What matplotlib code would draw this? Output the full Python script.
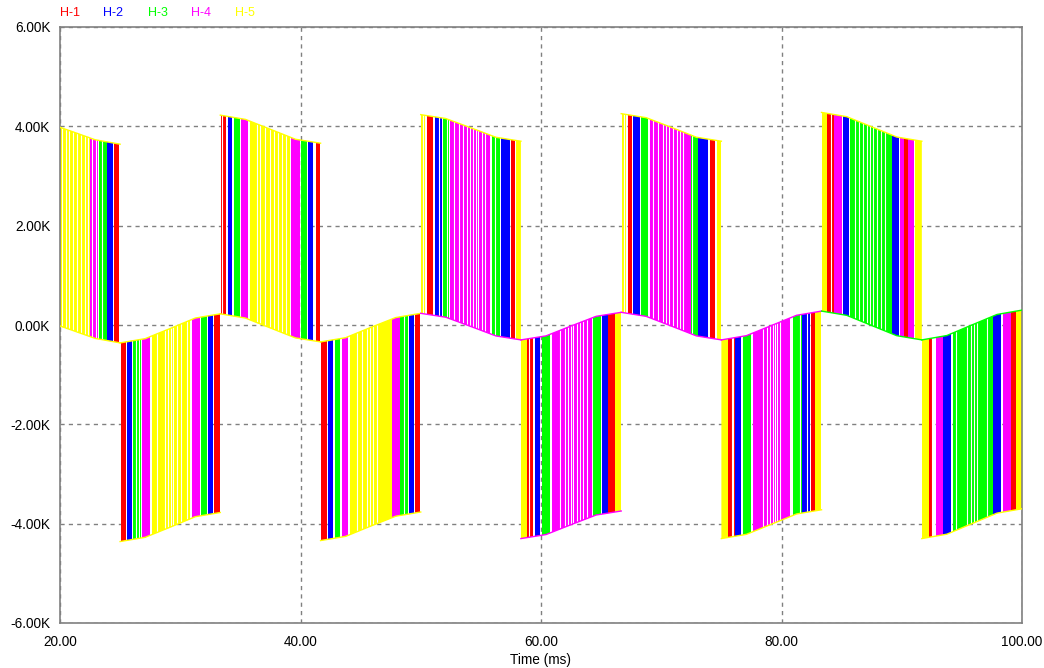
import numpy as np
import matplotlib
matplotlib.use('Agg')
import matplotlib.pyplot as plt
from matplotlib.patches import Polygon

plt.rcParams['font.family'] = ['Liberation Sans', 'DejaVu Sans']

series_names = ['H-1', 'H-2', 'H-3', 'H-4', 'H-5']
series_colors = {'H-1': '#FF0000', 'H-2': '#0000FF', 'H-3': '#00FF00',
                 'H-4': '#FF00FF', 'H-5': '#FFFF00'}

# baseline (low level) readings, kV, at times in ms
base_t = [20.0, 20.83, 22.92, 25.0, 27.08, 29.17, 31.25, 33.33, 35.42, 37.5,
          39.58, 41.67, 43.75, 45.83, 47.92, 50.0, 52.08, 54.17, 56.25, 58.33,
          60.42, 62.5, 64.58, 66.67, 68.75, 70.83, 72.92, 75.0, 77.08, 79.17,
          81.25, 83.33, 85.42, 87.5, 89.58, 91.67, 93.75, 95.83, 97.92, 100.0]
base_v = [-0.02, -0.09, -0.27, -0.36, -0.275, -0.07, 0.14, 0.225, 0.14, -0.06,
          -0.26, -0.34, -0.256, -0.05, 0.15, 0.235, 0.157, -0.03, -0.22, -0.30,
          -0.219, -0.02, 0.174, 0.255, 0.174, -0.02, -0.219, -0.30, -0.215, -0.01,
          0.195, 0.28, 0.195, -0.01, -0.215, -0.30, -0.212, 0.0, 0.212, 0.30]
pulse_height = 4.0

block_start = [20.0, 25.0, 33.33, 41.67, 50.0, 58.33, 66.67, 75.0, 83.33, 91.67]
block_end = [25.0, 33.33, 41.67, 50.0, 58.33, 66.67, 75.0, 83.33, 91.67, 100.0]
block_sign = [1, -1, 1, -1, 1, -1, 1, -1, 1, -1]
block_base_color = ['H-5', 'H-5', 'H-5', 'H-5', 'H-4', 'H-4', 'H-4', 'H-4', 'H-3', 'H-3']
block_outer_color = ['H-5', 'H-5', 'H-5', 'H-5', 'H-5', 'H-4', 'H-5', 'H-5', 'H-5', 'H-5']

bands_p1 = [('H-5', 20.0, 22.5), ('H-4', 22.5, 23.15), ('H-3', 23.25, 23.9),
            ('H-2', 23.95, 24.4), ('H-1', 24.5, 24.87)]
bands_n1 = [('H-1', 25.05, 25.5), ('H-2', 25.57, 26.0), ('H-3', 26.07, 26.75),
            ('H-4', 26.82, 27.5), ('H-5', 27.62, 30.82), ('H-4', 30.95, 31.65),
            ('H-3', 31.72, 32.25), ('H-2', 32.3, 32.75), ('H-1', 32.8, 33.3)]
bands_p2 = [('H-1', 33.35, 33.8), ('H-2', 33.97, 34.3), ('H-3', 34.47, 34.97),
            ('H-4', 35.05, 35.63), ('H-5', 35.8, 39.13), ('H-4', 39.21, 39.96),
            ('H-3', 40.04, 40.54), ('H-2', 40.62, 41.04), ('H-1', 41.29, 41.65)]
bands_n2 = [('H-1', 41.7, 42.2), ('H-2', 42.25, 42.7), ('H-3', 42.87, 43.28),
            ('H-4', 43.45, 43.95), ('H-5', 44.12, 47.6), ('H-4', 47.62, 48.27),
            ('H-3', 48.3, 48.94), ('H-2', 49.02, 49.44), ('H-1', 49.52, 49.94)]
bands_p3 = [('H-5', 50.0, 50.36), ('H-1', 50.5, 51.04), ('H-2', 51.18, 51.73),
            ('H-3', 51.87, 52.38), ('H-4', 52.43, 55.76), ('H-3', 55.9, 56.59),
            ('H-2', 56.66, 57.42), ('H-1', 57.5, 57.84), ('H-5', 57.9, 58.3)]
bands_n3 = [('H-5', 58.35, 58.8), ('H-1', 58.8, 59.36), ('H-2', 59.5, 59.9),
            ('H-3', 60.06, 60.75), ('H-4', 60.89, 64.22), ('H-3', 64.3, 64.96),
            ('H-2', 65.05, 65.6), ('H-1', 65.6, 66.15), ('H-5', 66.15, 66.65)]
bands_p4 = [('H-5', 66.7, 67.1), ('H-1', 67.2, 67.6), ('H-2', 67.65, 68.2),
            ('H-3', 68.3, 68.9), ('H-4', 69.05, 72.5), ('H-3', 72.5, 73.05),
            ('H-2', 73.05, 73.9), ('H-1', 74.05, 74.45), ('H-5', 74.6, 74.95)]
bands_n4 = [('H-5', 75.0, 75.55), ('H-1', 75.55, 76.1), ('H-2', 76.1, 76.66),
            ('H-3', 76.8, 77.5), ('H-4', 77.65, 80.7), ('H-3', 80.98, 81.67),
            ('H-2', 81.67, 82.36), ('H-1', 82.45, 82.78), ('H-5', 82.78, 83.3)]
bands_p5 = [('H-5', 83.35, 83.8), ('H-1', 83.8, 84.35), ('H-4', 84.35, 85.05),
            ('H-2', 85.1, 85.65), ('H-3', 85.73, 89.2), ('H-2', 89.2, 89.75),
            ('H-4', 89.83, 90.15), ('H-1', 90.15, 90.5), ('H-4', 90.5, 91.0),
            ('H-5', 91.1, 91.65)]
bands_n5 = [('H-5', 91.7, 92.3), ('H-1', 92.3, 92.7), ('H-4', 92.85, 93.4),
            ('H-2', 93.4, 94.1), ('H-3', 94.24, 97.57), ('H-2', 97.57, 98.27),
            ('H-4', 98.4, 99.1), ('H-1', 99.1, 99.5), ('H-5', 99.5, 100.0)]

gaps_p1 = [20.17, 20.5, 20.75, 21.08, 21.41, 21.75, 22.08, 22.33, 22.66, 23.0, 23.5]
gaps_n1 = [26.32, 26.57, 28.07, 28.73, 28.98, 29.23, 29.4, 29.73, 30.06, 30.56]
gaps_p2 = [33.5, 36.36, 36.63, 37.05, 37.46, 37.8, 38.1, 38.44, 38.77]
gaps_n2 = [44.67, 45.08, 45.5, 45.78, 46.03, 46.33, 48.6]
gaps_p3 = [50.17, 51.54, 52.16, 52.79, 53.2, 53.54, 53.82, 54.09, 54.32, 54.59,
           54.78, 55.07, 55.34, 56.18]
gaps_n3 = [59.0, 61.58, 62.0, 62.27, 62.47, 62.69, 62.96, 63.24, 63.52, 63.8]
gaps_p4 = [66.88, 69.33, 69.74, 70.11, 70.39, 70.67, 71.0, 71.28, 71.55, 71.83, 72.53]
gaps_n4 = [75.86, 76.0, 78.49, 78.76, 79.04, 79.27, 79.46, 79.65, 79.88, 81.54, 82.1]
gaps_p5 = [84.1, 86.09, 86.42, 86.75, 87.09, 87.34, 87.59, 87.92, 88.25, 88.59]
gaps_n5 = [92.48, 92.62, 94.5, 95.4, 95.73, 96.0, 96.28, 97.06]

block_bands = [bands_p1, bands_n1, bands_p2, bands_n2, bands_p3,
               bands_n3, bands_p4, bands_n4, bands_p5, bands_n5]
block_gaps = [gaps_p1, gaps_n1, gaps_p2, gaps_n2, gaps_p3,
              gaps_n3, gaps_p4, gaps_n4, gaps_p5, gaps_n5]

x_ticks = [20, 40, 60, 80, 100]
x_labels = ['20.00', '40.00', '60.00', '80.00', '100.00']
y_ticks = [-6, -4, -2, 0, 2, 4, 6]
y_labels = ['-6.00K', '-4.00K', '-2.00K', '0.00K', '2.00K', '4.00K', '6.00K']

W, H = 1044, 668
fig = plt.figure(figsize=(W / 100, H / 100), dpi=100)
ax = fig.add_axes([60 / W, 1 - 623 / H, (1022 - 60) / W, (623 - 27) / H])

bt = np.array(base_t)
bv = np.array(base_v)

for s, e, sg, bands, gaps, bc, oc in zip(block_start, block_end, block_sign,
                                         block_bands, block_gaps,
                                         block_base_color, block_outer_color):
    m = (bt >= s - 1e-6) & (bt <= e + 1e-6)
    tt = bt[m]
    lo = bv[m]
    hi = lo + sg * pulse_height
    verts = list(zip(tt, lo)) + list(zip(tt[::-1], hi[::-1]))
    poly = Polygon(verts, closed=True, transform=ax.transData)
    for name, t0, t1 in bands:
        r = ax.axvspan(t0, t1, color=series_colors[name], lw=0, zorder=2)
        r.set_clip_path(poly)
    for g in gaps:
        ln = ax.axvline(g, color='white', lw=0.8, zorder=3)
        ln.set_clip_path(poly)
    ax.plot(tt, lo, color=series_colors[bc], lw=1.0, zorder=4)
    ax.plot(tt, hi, color=series_colors[oc], lw=1.0, zorder=4)

ax.set_xlim(20, 100)
ax.set_ylim(-6, 6)
ax.set_xticks(x_ticks)
ax.set_xticklabels(x_labels)
ax.set_yticks(y_ticks)
ax.set_yticklabels(y_labels)
ax.tick_params(length=0, labelsize=9.8, colors='black')
ax.tick_params(axis='x', pad=9)
ax.tick_params(axis='y', pad=7)
ax.grid(True, color='#808080', linestyle=(0, (3, 3)), lw=1.0, zorder=1)
ax.set_axisbelow(True)
for sp in ax.spines.values():
    sp.set_color('#808080')
    sp.set_linewidth(1.2)

fig.text(541 / W, 1 - 660 / H, 'Time (ms)', ha='center', va='center', fontsize=9.8)

legend_x = [60, 103, 148, 191, 235]
for name, lx in zip(series_names, legend_x):
    fig.text(lx / W, 1 - 13 / H, name, color=series_colors[name],
             ha='left', va='center', fontsize=9)

fig.savefig('out.png', dpi=100, facecolor='white')
